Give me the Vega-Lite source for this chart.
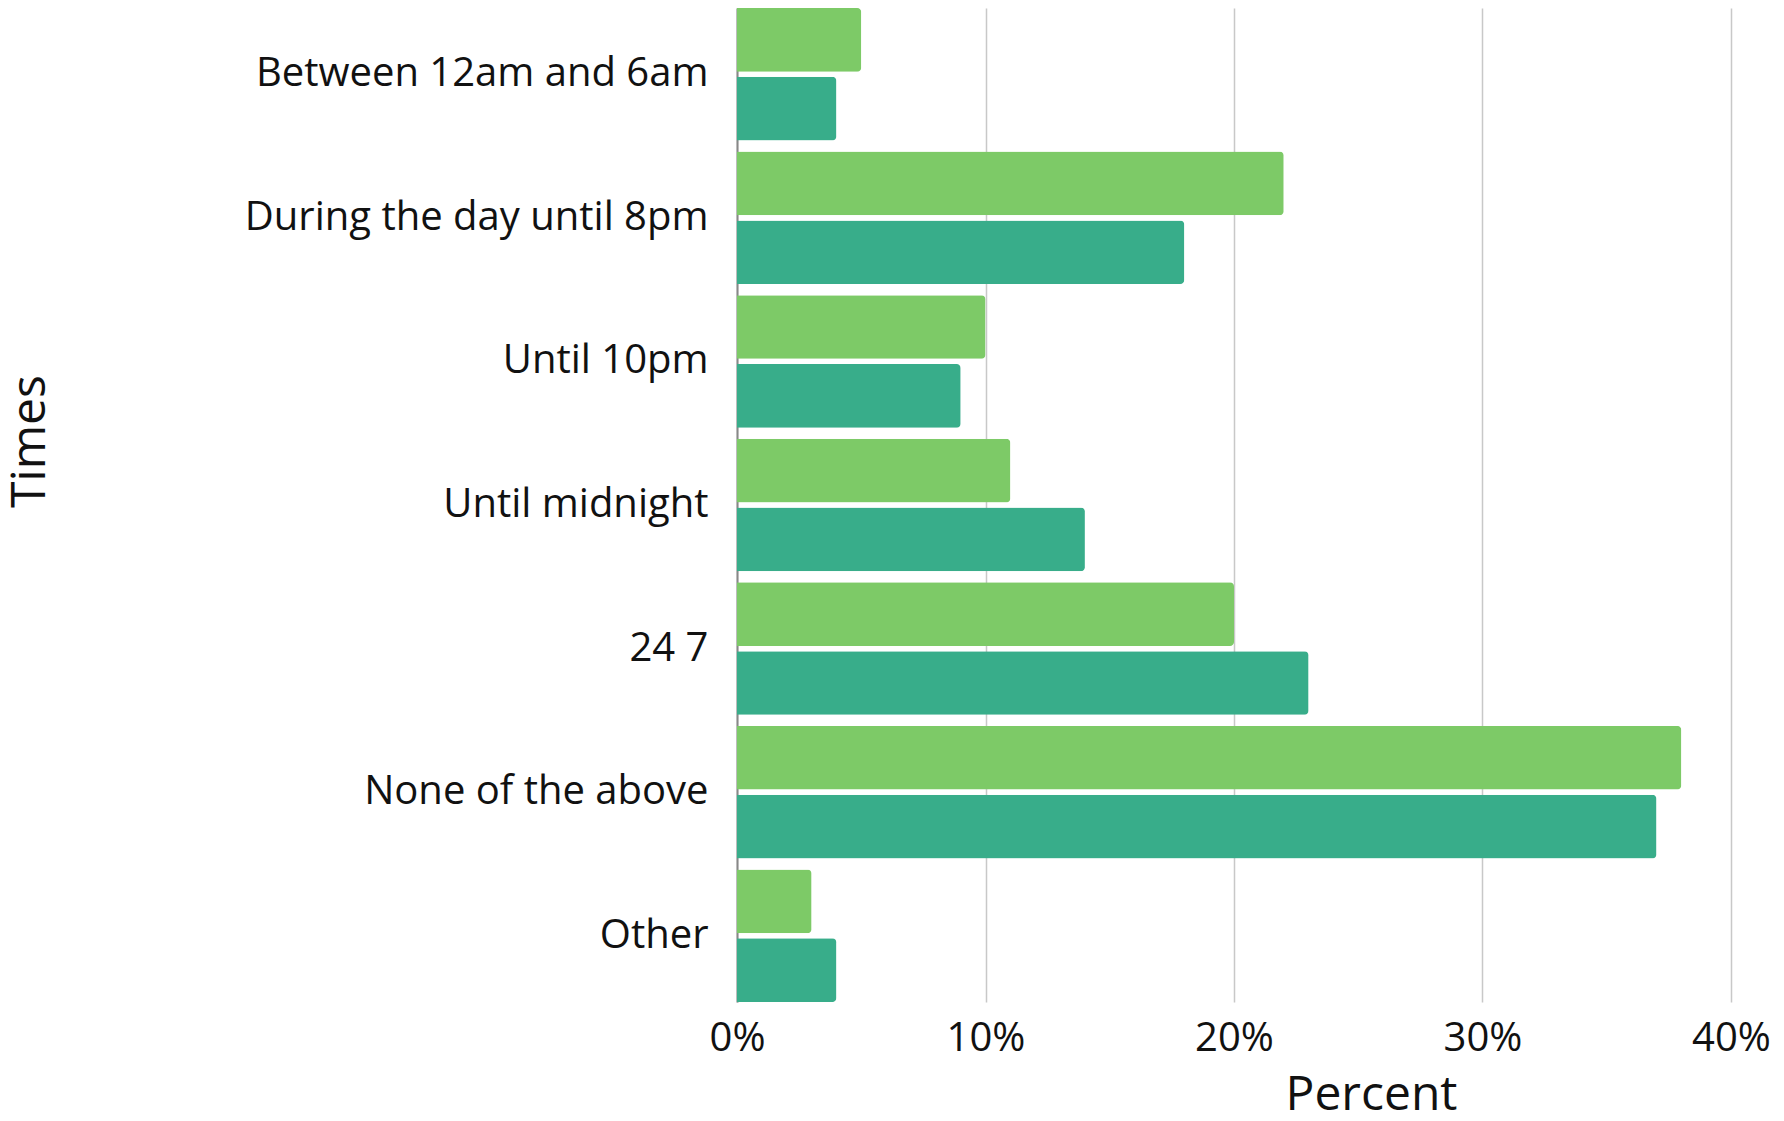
{
  "$schema": "https://vega.github.io/schema/vega-lite/v6.json",
  "width": 994,
  "height": 994,
  "padding": {"left": 6, "top": 8, "right": 0, "bottom": 0},
  "background": "white",
  "config": {
    "font": "Open Sans",
    "view": {"stroke": null}
  },
  "data": {
    "values": [
      {"time": "Between 12am and 6am", "series": "Series 1", "value": 0.05},
      {"time": "Between 12am and 6am", "series": "Series 2", "value": 0.04},
      {"time": "During the day until 8pm", "series": "Series 1", "value": 0.22},
      {"time": "During the day until 8pm", "series": "Series 2", "value": 0.18},
      {"time": "Until 10pm", "series": "Series 1", "value": 0.10},
      {"time": "Until 10pm", "series": "Series 2", "value": 0.09},
      {"time": "Until midnight", "series": "Series 1", "value": 0.11},
      {"time": "Until midnight", "series": "Series 2", "value": 0.14},
      {"time": "24 7", "series": "Series 1", "value": 0.20},
      {"time": "24 7", "series": "Series 2", "value": 0.23},
      {"time": "None of the above", "series": "Series 1", "value": 0.38},
      {"time": "None of the above", "series": "Series 2", "value": 0.37},
      {"time": "Other", "series": "Series 1", "value": 0.03},
      {"time": "Other", "series": "Series 2", "value": 0.04}
    ]
  },
  "mark": {"type": "bar", "cornerRadiusEnd": 4},
  "encoding": {
    "y": {
      "field": "time",
      "type": "nominal",
      "sort": null,
      "title": "Times",
      "scale": {"paddingInner": 0.077, "paddingOuter": 0},
      "axis": {
        "labelFontSize": 40,
        "labelColor": "#111111",
        "labelPadding": 29,
        "labelLimit": 600,
        "ticks": false,
        "domain": true,
        "domainColor": "#888888",
        "domainWidth": 2,
        "titleFontSize": 48,
        "titleFontWeight": "normal",
        "titleColor": "#111111",
        "titleX": -683,
        "titleY": 433
      }
    },
    "yOffset": {
      "field": "series",
      "type": "nominal",
      "scale": {"paddingInner": 0.075, "paddingOuter": 0}
    },
    "x": {
      "field": "value",
      "type": "quantitative",
      "title": "Percent",
      "scale": {"domain": [0, 0.4]},
      "axis": {
        "format": ".0%",
        "values": [0, 0.1, 0.2, 0.3, 0.4],
        "labelFlush": false,
        "labelFontSize": 40,
        "labelColor": "#111111",
        "labelPadding": 16,
        "ticks": false,
        "domain": false,
        "grid": true,
        "gridColor": "#c8c8c8",
        "gridWidth": 1.5,
        "titleFontSize": 48,
        "titleFontWeight": "normal",
        "titleColor": "#111111",
        "titleX": 634,
        "titlePadding": 13
      }
    },
    "color": {
      "field": "series",
      "type": "nominal",
      "legend": null,
      "scale": {"domain": ["Series 1", "Series 2"], "range": ["#7dca67", "#38ad8a"]}
    }
  }
}
